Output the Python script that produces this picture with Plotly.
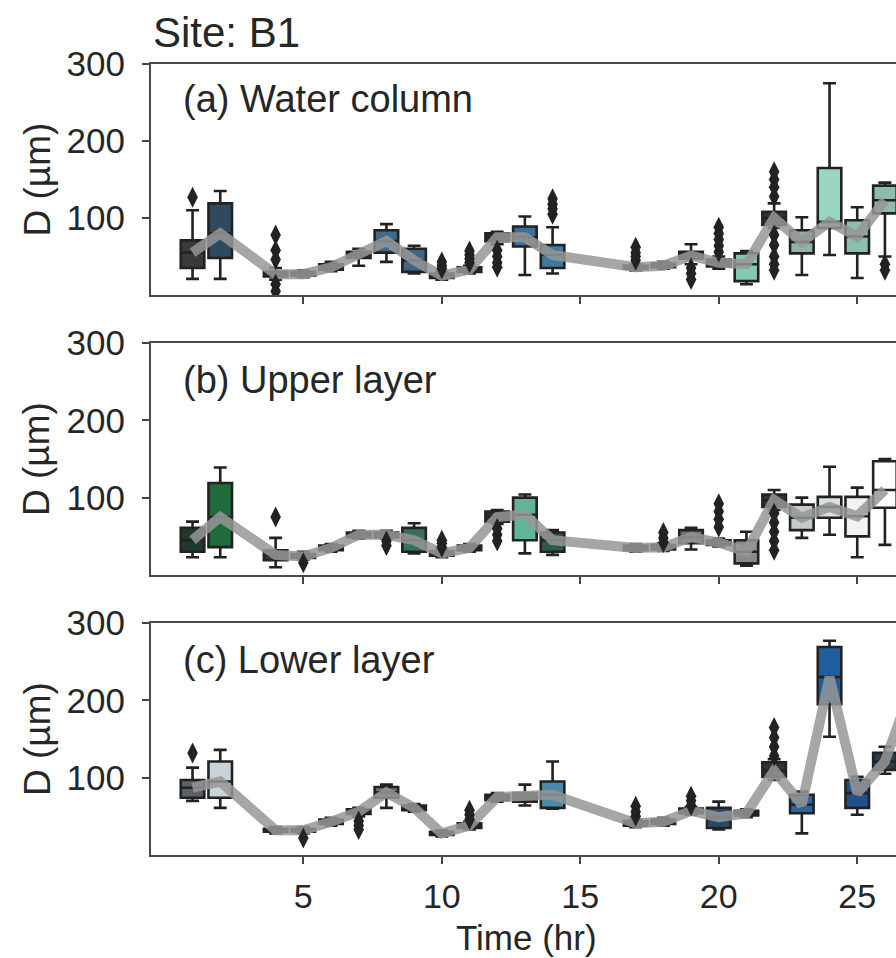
import plotly.graph_objects as go

# ---------------- data ----------------
# Panel (a) Water column
a_hours = [1, 2, 4, 5, 6, 7, 8, 9, 10, 11, 12, 13, 14, 17, 18, 19, 20, 21, 22, 23, 24, 25, 26]
a_q1 = [35, 48, 24, 25, 33, 48, 55, 30, 22, 30, 70, 63, 35, 34, 36, 47, 37, 18, 91, 54, 87, 54, 106]
a_med = [55, 80, 27, 27, 36, 52, 70, 45, 25, 33, 75, 75, 52, 36, 38, 51, 42, 40, 100, 69, 95, 76, 123]
a_q3 = [71, 119, 30, 30, 40, 56, 84, 60, 28, 36, 80, 89, 65, 38, 41, 56, 46, 54, 108, 84, 165, 97, 142]
a_lo = [21, 21, 20, 23, 31, 38, 43, 28, 20, 28, 66, 26, 28, 32, 34, 40, 34, 14, 87, 26, 52, 22, 50]
a_hi = [110, 135, 35, 32, 43, 60, 92, 64, 30, 38, 82, 102, 88, 40, 43, 66, 50, 57, 119, 101, 275, 114, 146]
a_out = [[127], [], [78, 58, 46, 14, 5], [], [], [], [], [], [34, 38, 43], [42, 47, 52, 57],
         [58, 50, 42, 36], [], [105, 112, 118, 125], [45, 50, 55, 62], [], [35, 28, 20],
         [56, 64, 72, 80, 88], [], [128, 140, 150, 160, 78, 65, 50, 40, 32], [], [], [], [40, 32]]
a_colors = ["#3a3a3a", "#2f4a5e", "#2e2e2e", "#2e2e2e", "#2e2e2e", "#2e2e2e", "#3f6a8c", "#3d6585",
            "#2e2e2e", "#2e2e2e", "#2e2e2e", "#3b6f99", "#3e7aa0", "#2e2e2e", "#2e2e2e", "#2e2e2e",
            "#2e2e2e", "#86c9b3", "#333333", "#8fb4a6", "#9ad6c0", "#8cc0ad", "#8fbcaa"]

# Panel (b) Upper layer
b_hours = [1, 2, 4, 5, 6, 7, 8, 9, 10, 11, 12, 13, 14, 17, 18, 19, 20, 21, 22, 23, 24, 25, 26]
b_q1 = [30, 36, 19, 22, 32, 49, 49, 30, 25, 32, 69, 45, 30, 32, 33, 41, 39, 15, 88, 58, 74, 50, 87]
b_med = [45, 75, 26, 24, 35, 52, 52, 45, 28, 35, 75, 78, 45, 35, 36, 49, 42, 30, 97, 74, 88, 76, 110]
b_q3 = [61, 119, 32, 27, 38, 55, 55, 61, 31, 38, 82, 100, 55, 38, 39, 58, 45, 45, 104, 91, 101, 101, 147]
b_lo = [23, 23, 10, 20, 30, 47, 47, 28, 23, 30, 66, 28, 26, 30, 31, 33, 37, 12, 84, 48, 52, 23, 39]
b_hi = [69, 139, 48, 30, 40, 57, 57, 67, 33, 40, 84, 104, 58, 40, 41, 61, 47, 56, 110, 100, 140, 113, 150]
b_out = [[], [], [75], [16], [], [], [44, 38], [], [36, 41, 45], [], [60, 52, 44], [], [], [],
         [42, 48, 55], [], [62, 72, 82, 92], [], [80, 68, 56, 44, 32], [], [], [], []]
b_colors = ["#1f3a2a", "#1f6b3a", "#24403a", "#2e2e2e", "#2e2e2e", "#2e2e2e", "#2e2e2e", "#35705a",
            "#2e2e2e", "#2e2e2e", "#2e2e2e", "#5fb598", "#2c5a48", "#2e2e2e", "#2e2e2e", "#6f6f6f",
            "#2e2e2e", "#8a8a8a", "#333333", "#c4ccc8", "#d8e2dc", "#f2f2f2", "#ffffff"]

# Panel (c) Lower layer
c_hours = [1, 2, 4, 5, 6, 7, 8, 9, 10, 11, 12, 13, 14, 17, 18, 19, 20, 21, 22, 23, 24, 25, 26, 27]
c_q1 = [74, 74, 30, 30, 40, 53, 74, 58, 26, 35, 71, 69, 61, 38, 40, 54, 35, 51, 101, 54, 195, 61, 110, 200]
c_med = [87, 95, 32, 32, 43, 56, 81, 61, 28, 38, 75, 75, 78, 41, 43, 57, 49, 54, 109, 65, 230, 80, 121, 220]
c_q3 = [97, 121, 34, 34, 46, 59, 88, 64, 30, 41, 78, 80, 95, 44, 46, 60, 61, 57, 120, 78, 269, 97, 132, 240]
c_lo = [70, 61, 28, 28, 38, 50, 61, 56, 24, 33, 69, 64, 60, 36, 38, 52, 33, 49, 97, 28, 153, 52, 105, 190]
c_hi = [113, 136, 36, 36, 48, 61, 91, 66, 32, 43, 80, 91, 121, 46, 48, 62, 69, 59, 124, 82, 277, 101, 140, 250]
c_out = [[132], [], [], [22], [], [44, 38, 33], [], [], [], [46, 52, 58], [], [], [], [50, 56, 63],
         [], [64, 70, 76], [], [], [128, 140, 152, 165], [], [], [], [], []]
c_colors = ["#5a6066", "#c9d3da", "#2e2e2e", "#2e2e2e", "#2e2e2e", "#2e2e2e", "#6f6f6f", "#2e2e2e",
            "#2e2e2e", "#2e2e2e", "#2e2e2e", "#333a40", "#4b8aa8", "#2e2e2e", "#2e2e2e", "#2e2e2e",
            "#2a4a6a", "#2e2e2e", "#333333", "#2b64a0", "#1f5e9c", "#1f5088", "#2a3a4a", "#2a3a4a"]

panel_labels = ["(a) Water column", "(b) Upper layer", "(c) Lower layer"]
x_ticks = [5, 10, 15, 20, 25]
y_ticks = [100, 200, 300]

# ---------------- figure ----------------
W, H = 896, 958
FONT = "Liberation Sans, Arial, Helvetica, sans-serif"
TXT = "#262626"
panels_px = [(64, 295), (343, 575), (623, 855)]  # top, bottom pixel rows
x_left = 151

fig = go.Figure()
panels = [
    (a_hours, a_q1, a_med, a_q3, a_lo, a_hi, a_out, a_colors),
    (b_hours, b_q1, b_med, b_q3, b_lo, b_hi, b_out, b_colors),
    (c_hours, c_q1, c_med, c_q3, c_lo, c_hi, c_out, c_colors),
]

for i, (hrs, q1, med, q3, lo, hi, outs, cols) in enumerate(panels):
    xa = "x" if i == 0 else f"x{i+1}"
    ya = "y" if i == 0 else f"y{i+1}"
    # grey median line (behind boxes)
    fig.add_trace(go.Scatter(x=hrs, y=med, mode="lines", xaxis=xa, yaxis=ya,
                             line=dict(color="rgba(150,150,150,0.85)", width=10),
                             showlegend=False, hoverinfo="skip"))
    for j, h in enumerate(hrs):
        fig.add_trace(go.Box(x=[h], q1=[q1[j]], median=[med[j]], q3=[q3[j]],
                             lowerfence=[lo[j]], upperfence=[hi[j]],
                             fillcolor=cols[j], line=dict(color="#222222", width=2.6),
                             width=0.85, whiskerwidth=0.55, boxpoints=False,
                             xaxis=xa, yaxis=ya, showlegend=False, hoverinfo="skip"))
    ox, oy = [], []
    for j, h in enumerate(hrs):
        for v in outs[j]:
            ox.append(h)
            oy.append(v)
    fig.add_trace(go.Scatter(x=ox, y=oy, mode="markers", xaxis=xa, yaxis=ya,
                             marker=dict(symbol="diamond-tall", size=15, color="#222222",
                                         line=dict(width=0)),
                             showlegend=False, hoverinfo="skip"))

layout = dict(
    width=W, height=H, autosize=False, margin=dict(l=0, r=0, t=0, b=0, pad=0),
    paper_bgcolor="white", plot_bgcolor="white",
    font=dict(family=FONT, color=TXT, size=34),
    boxmode="overlay",
)
for i, (top, bot) in enumerate(panels_px):
    xk = "xaxis" if i == 0 else f"xaxis{i+1}"
    yk = "yaxis" if i == 0 else f"yaxis{i+1}"
    ya = "y" if i == 0 else f"y{i+1}"
    xa = "x" if i == 0 else f"x{i+1}"
    layout[xk] = dict(domain=[x_left / W, 1], range=[-0.5, 26.4], anchor=ya,
                      tickvals=x_ticks, showticklabels=(i == 2), ticks="outside",
                      ticklen=7, tickwidth=1.5, tickcolor="#444444",
                      showline=True, linecolor="#4a4a4a", linewidth=2, mirror=True,
                      showgrid=False, zeroline=False, ticklabelstandoff=3,
                      automargin=False,
                      tickfont=dict(size=34, family=FONT, color=TXT))
    layout[yk] = dict(domain=[1 - bot / H, 1 - top / H], range=[0, 300], anchor=xa,
                      tickvals=y_ticks, ticks="outside", ticklen=7, tickwidth=1.5,
                      tickcolor="#444444", showline=True, linecolor="#4a4a4a",
                      linewidth=2, mirror=False, showgrid=False, zeroline=False,
                      ticklabelstandoff=10, automargin=False,
                      tickfont=dict(size=35, family=FONT, color=TXT))
fig.update_layout(**layout)

annotations = [
    dict(text="Site: B1", x=151 / W, y=1 - 33 / H, xref="paper", yref="paper",
         xanchor="left", yanchor="middle", showarrow=False,
         font=dict(size=42, family=FONT, color=TXT)),
    dict(text="Time (hr)", x=526 / W, y=0, xref="paper", yref="paper",
         xanchor="center", yanchor="bottom", showarrow=False, borderpad=0,
         font=dict(size=35, family=FONT, color=TXT)),
]
label_y = [99, 380, 660]
for i, (top, bot) in enumerate(panels_px):
    annotations.append(dict(text=panel_labels[i], x=181 / W, y=1 - label_y[i] / H,
                            xref="paper", yref="paper", xanchor="left", yanchor="middle",
                            showarrow=False, font=dict(size=38, family=FONT, color=TXT)))
    annotations.append(dict(text="D (µm)", x=37 / W, y=1 - (top + bot) / 2 / H,
                            xref="paper", yref="paper", xanchor="center", yanchor="middle",
                            textangle=-90, showarrow=False,
                            font=dict(size=37, family=FONT, color=TXT)))
fig.update_layout(annotations=annotations)

fig.write_html("out.html", config={"displayModeBar": False},
               post_script="document.body.style.margin='0px';"
                           "document.body.style.padding='0px';"
                           "document.body.style.overflow='hidden';")
